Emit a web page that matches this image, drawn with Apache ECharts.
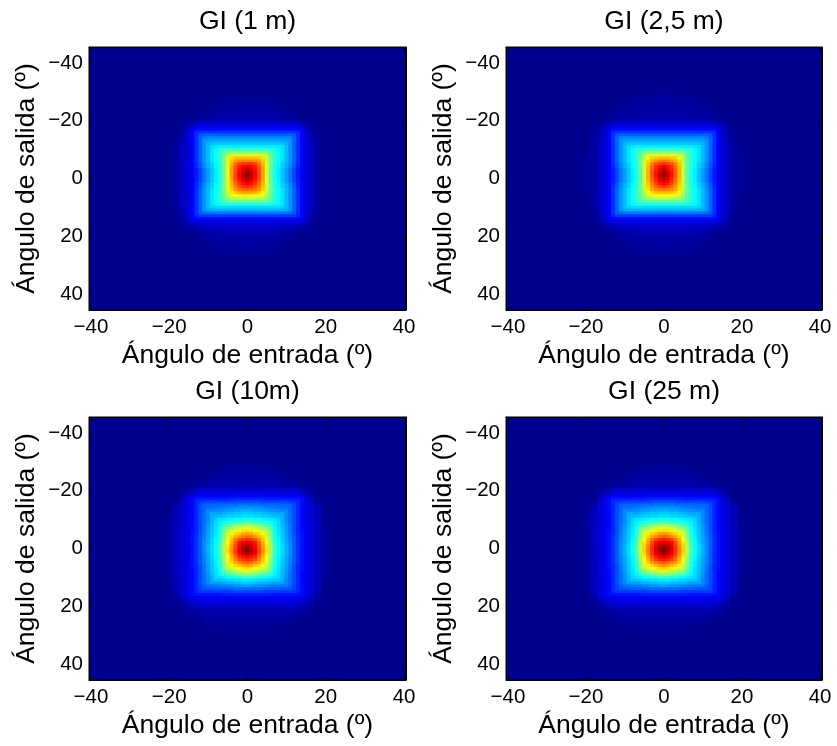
<!DOCTYPE html>
<html>
<head>
<meta charset="utf-8">
<script src="https://cdn.jsdelivr.net/npm/echarts@6/dist/echarts.min.js"></script>
<style>
  html, body { margin: 0; padding: 0; background: #ffffff; }
  #chart { width: 837px; height: 746px; }
</style>
</head>
<body>
<div id="chart"></div>
<script>
// ---- Axes and labels ----
const tickValues = [-40,-20,0,20,40];
const panelTitles = ['GI (1 m)', 'GI (2,5 m)', 'GI (10m)', 'GI (25 m)'];
const xAxisTitle = 'Ángulo de entrada (º)';
const yAxisTitle = 'Ángulo de salida (º)';

// ---- Outer ring: 2-degree cells (angles are cell centres) ----
const xCoarse = [-20,-18,-16,-14,-12,-10,-8,-6,-4,-2,0,2,4,6,8,10,12,14,16,18,20];
const yCoarseTop = [-29,-27,-25,-23,-21,-19,-17,-15,-13,-11,-9,-7,-5,-3,-1,1,3,5,7,9,11,13,15,17,19,21,23,25];
const yCoarseBottom = [-28,-26,-24,-22,-20,-18,-16,-14,-12,-10,-8,-6,-4,-2,0,2,4,6,8,10,12,14,16,18,20,22,24,26,28];

// ---- Central lobe: 1-degree cells ----
const xFineTop = [-15,-14,-13,-12,-11,-10,-9,-8,-7,-6,-5,-4,-3,-2,-1,0,1,2,3,4,5,6,7,8,9,10,11,12,13,14,15];
const yFineTop = [-19,-18,-17,-16,-15,-14,-13,-12,-11,-10,-9,-8,-7,-6,-5,-4,-3,-2,-1,0,1,2,3,4,5,6,7,8,9,10,11,12,13,14,15,16];
const xFineBottom = [-16,-15,-14,-13,-12,-11,-10,-9,-8,-7,-6,-5,-4,-3,-2,-1,0,1,2,3,4,5,6,7,8,9,10,11,12,13,14,15,16];
const yFineBottom = [-20,-19,-18,-17,-16,-15,-14,-13,-12,-11,-10,-9,-8,-7,-6,-5,-4,-3,-2,-1,0,1,2,3,4,5,6,7,8,9,10,11,12,13,14,15,16,17,18,19];

// Normalised gain GI (0-100); rows = output angle, columns = input angle
const gi1mCoarse = [
  [0,0,0,0,0,0,0,0,0,0,0,0,0,0,0,0,0,0,0,0,0],
  [0,0,0,0,0,0,0,0,1,1,1,1,1,0,0,0,0,0,0,0,0],
  [0,0,0,0,0,0,1,2,2,2,2,2,2,2,1,0,0,0,0,0,0],
  [0,0,0,0,0,1,2,2,2,2,2,2,2,2,2,1,0,0,0,0,0],
  [0,0,0,0,1,2,3,3,3,3,3,3,3,3,3,2,1,0,0,0,0],
  [0,0,1,2,4,5,6,6,6,6,6,6,6,6,6,5,4,2,1,0,0],
  [0,0,2,7,11,12,12,12,12,12,12,12,12,12,12,12,11,7,2,0,0],
  [0,1,4,12,20,22,22,22,22,22,22,22,22,22,22,22,20,12,4,1,0],
  [0,1,5,13,22,30,30,30,30,30,30,30,30,30,30,30,22,13,5,1,0],
  [0,2,6,13,22,30,36,36,36,36,36,36,36,36,36,30,22,13,6,2,0],
  [0,2,6,13,22,30,38,46,50,51,51,51,50,46,38,30,22,13,6,2,0],
  [0,2,6,13,22,30,38,46,62,68,70,68,62,46,38,30,22,13,6,2,0],
  [0,2,6,13,22,30,38,46,66,78,83,78,66,46,38,30,22,13,6,2,0],
  [0,2,6,12,19,27,36,46,70,86,93,86,70,46,36,27,19,12,6,2,0],
  [0,2,6,12,19,27,36,46,72,88,100,88,72,46,36,27,19,12,6,2,0],
  [0,2,6,12,19,27,36,46,70,84,92,84,70,46,36,27,19,12,6,2,0],
  [0,2,6,13,22,30,38,46,66,79,84,79,66,46,38,30,22,13,6,2,0],
  [0,2,6,13,22,30,38,46,62,68,70,68,62,46,38,30,22,13,6,2,0],
  [0,2,6,13,22,30,38,46,53,56,56,56,53,46,38,30,22,13,6,2,0],
  [0,2,6,13,22,30,36,39,40,40,40,40,40,39,36,30,22,13,6,2,0],
  [0,1,6,13,22,29,31,31,31,31,31,31,31,31,31,29,22,13,6,1,0],
  [0,1,4,12,17,18,18,18,18,18,18,18,18,18,18,18,17,12,4,1,0],
  [0,0,2,6,9,10,10,10,10,10,10,10,10,10,10,10,9,6,2,0,0],
  [0,0,1,2,4,5,6,6,6,6,6,6,6,6,6,5,4,2,1,0,0],
  [0,0,0,0,1,2,3,4,4,4,4,4,4,4,3,2,1,0,0,0,0],
  [0,0,0,0,0,1,2,2,2,2,2,2,2,2,2,1,0,0,0,0,0],
  [0,0,0,0,0,0,1,2,2,2,2,2,2,2,1,0,0,0,0,0,0],
  [0,0,0,0,0,0,0,0,1,1,1,1,1,0,0,0,0,0,0,0,0]
];

const gi1mFine = [
  [2,4,5,6,6,6,6,6,6,6,6,6,6,6,6,6,6,6,6,6,6,6,6,6,6,6,6,6,5,4,2],
  [4,7,9,10,10,10,10,10,10,10,10,10,10,10,10,10,10,10,10,10,10,10,10,10,10,10,10,10,9,7,4],
  [6,10,12,13,13,13,13,13,13,13,13,13,13,13,13,13,13,13,13,13,13,13,13,13,13,13,13,13,12,10,6],
  [7,11,16,17,17,17,17,17,17,17,17,17,17,17,17,17,17,17,17,17,17,17,17,17,17,17,17,17,16,11,7],
  [8,12,17,21,22,22,22,22,22,22,22,22,22,22,22,22,22,22,22,22,22,22,22,22,22,22,22,21,17,12,8],
  [8,12,17,22,25,26,26,26,26,26,26,26,26,26,26,26,26,26,26,26,26,26,26,26,26,26,25,22,17,12,8],
  [8,12,17,22,27,28,29,29,29,29,29,29,29,29,29,29,29,29,29,29,29,29,29,29,29,28,27,22,17,12,8],
  [8,12,17,22,27,30,31,32,32,32,32,32,32,32,32,32,32,32,32,32,32,32,32,32,31,30,27,22,17,12,8],
  [8,12,17,22,27,31,34,35,36,36,36,36,36,36,36,36,36,36,36,36,36,36,36,35,34,31,27,22,17,12,8],
  [8,12,17,22,27,31,35,37,40,41,42,42,42,42,42,42,42,42,42,42,42,41,40,37,35,31,27,22,17,12,8],
  [8,12,17,22,27,31,35,38,42,46,49,50,50,50,50,50,50,50,50,50,49,46,42,38,35,31,27,22,17,12,8],
  [8,12,17,22,27,31,35,38,42,47,55,58,59,59,59,59,59,59,59,58,55,47,42,38,35,31,27,22,17,12,8],
  [8,12,17,22,27,31,35,38,42,48,58,65,68,69,69,69,69,69,68,65,58,48,42,38,35,31,27,22,17,12,8],
  [8,12,17,22,27,31,35,38,42,48,58,68,72,74,75,75,75,74,72,68,58,48,42,38,35,31,27,22,17,12,8],
  [8,12,16,21,26,30,33,37,41,48,59,70,77,81,83,83,83,81,77,70,59,48,41,37,33,30,26,21,16,12,8],
  [8,12,16,21,26,30,33,37,41,48,60,71,79,85,88,90,88,85,79,71,60,48,41,37,33,30,26,21,16,12,8],
  [8,11,15,19,24,28,32,36,40,47,60,72,80,86,90,94,90,86,80,72,60,47,40,36,32,28,24,19,15,11,8],
  [8,11,15,19,24,28,32,36,40,47,60,72,81,88,93,97,93,88,81,72,60,47,40,36,32,28,24,19,15,11,8],
  [8,11,15,19,24,28,32,36,40,47,60,72,81,88,94,100,94,88,81,72,60,47,40,36,32,28,24,19,15,11,8],
  [8,11,15,19,24,28,32,36,40,47,60,72,81,87,92,96,92,87,81,72,60,47,40,36,32,28,24,19,15,11,8],
  [8,11,15,19,24,28,32,36,40,47,60,71,79,85,89,92,89,85,79,71,60,47,40,36,32,28,24,19,15,11,8],
  [8,12,16,21,26,30,33,37,41,48,59,70,77,82,86,88,86,82,77,70,59,48,41,37,33,30,26,21,16,12,8],
  [8,12,16,21,26,30,33,37,41,48,58,68,75,79,82,83,82,79,75,68,58,48,41,37,33,30,26,21,16,12,8],
  [8,12,17,22,27,31,35,38,42,48,58,67,73,76,77,78,77,76,73,67,58,48,42,38,35,31,27,22,17,12,8],
  [8,12,17,22,27,31,35,38,42,48,57,64,68,70,71,71,71,70,68,64,57,48,42,38,35,31,27,22,17,12,8],
  [8,12,17,22,27,31,35,38,42,47,55,60,62,63,64,64,64,63,62,60,55,47,42,38,35,31,27,22,17,12,8],
  [8,12,17,22,27,31,35,38,42,46,51,54,55,56,56,56,56,56,55,54,51,46,42,38,35,31,27,22,17,12,8],
  [8,12,17,22,27,31,35,38,41,44,47,48,48,48,48,48,48,48,48,48,47,44,41,38,35,31,27,22,17,12,8],
  [8,12,17,22,27,31,35,37,39,40,40,40,40,40,40,40,40,40,40,40,40,40,39,37,35,31,27,22,17,12,8],
  [8,12,17,22,27,31,33,34,34,34,34,34,34,34,34,34,34,34,34,34,34,34,34,34,33,31,27,22,17,12,8],
  [8,12,17,22,27,29,30,30,30,30,30,30,30,30,30,30,30,30,30,30,30,30,30,30,30,29,27,22,17,12,8],
  [8,12,17,21,23,24,24,24,24,24,24,24,24,24,24,24,24,24,24,24,24,24,24,24,24,24,23,21,17,12,8],
  [7,12,16,18,18,18,18,18,18,18,18,18,18,18,18,18,18,18,18,18,18,18,18,18,18,18,18,18,16,12,7],
  [7,11,13,13,13,13,13,13,13,13,13,13,13,13,13,13,13,13,13,13,13,13,13,13,13,13,13,13,13,11,7],
  [5,8,9,9,9,9,9,9,9,9,9,9,9,9,9,9,9,9,9,9,9,9,9,9,9,9,9,9,9,8,5],
  [3,5,6,7,7,7,7,7,7,7,7,7,7,7,7,7,7,7,7,7,7,7,7,7,7,7,7,7,6,5,3]
];

const gi2_5mCoarse = [
  [0,0,0,0,0,0,0,0,0,1,1,1,0,0,0,0,0,0,0,0,0],
  [0,0,0,0,0,0,1,2,2,2,2,2,2,2,1,0,0,0,0,0,0],
  [0,0,0,0,0,1,2,2,2,2,2,2,2,2,2,1,0,0,0,0,0],
  [0,0,0,0,1,2,2,2,2,2,2,2,2,2,2,2,1,0,0,0,0],
  [0,0,0,1,2,3,3,3,3,3,3,3,3,3,3,3,2,1,0,0,0],
  [0,0,1,3,4,5,6,6,6,6,6,6,6,6,6,5,4,3,1,0,0],
  [0,1,3,7,11,12,12,12,12,12,12,12,12,12,12,12,11,7,3,1,0],
  [0,1,4,12,20,22,22,22,22,22,22,22,22,22,22,22,20,12,4,1,0],
  [0,2,5,13,22,30,30,30,30,30,30,30,30,30,30,30,22,13,5,2,0],
  [0,2,6,13,22,30,36,37,37,37,37,37,37,37,36,30,22,13,6,2,0],
  [0,2,6,13,22,30,38,46,50,51,52,51,50,46,38,30,22,13,6,2,0],
  [1,2,6,13,22,30,38,46,62,68,70,68,62,46,38,30,22,13,6,2,1],
  [1,2,6,13,22,30,38,45,65,78,84,78,65,45,38,30,22,13,6,2,1],
  [1,2,6,12,19,27,36,45,68,85,94,85,68,45,36,27,19,12,6,2,1],
  [1,2,6,12,19,27,36,45,70,86,100,86,70,45,36,27,19,12,6,2,1],
  [1,2,6,12,19,27,36,45,68,83,91,83,68,45,36,27,19,12,6,2,1],
  [1,2,6,13,22,30,38,45,64,77,82,77,64,45,38,30,22,13,6,2,1],
  [0,2,6,13,22,30,38,45,60,66,69,66,60,45,38,30,22,13,6,2,0],
  [0,2,6,13,22,30,38,45,52,55,55,55,52,45,38,30,22,13,6,2,0],
  [0,2,6,13,22,30,36,39,40,40,40,40,40,39,36,30,22,13,6,2,0],
  [0,1,6,13,22,29,31,31,31,31,31,31,31,31,31,29,22,13,6,1,0],
  [0,1,4,12,17,18,18,18,18,18,18,18,18,18,18,18,17,12,4,1,0],
  [0,0,2,6,9,10,10,10,10,10,10,10,10,10,10,10,9,6,2,0,0],
  [0,0,1,3,4,5,6,6,6,6,6,6,6,6,6,5,4,3,1,0,0],
  [0,0,0,0,2,3,3,4,4,4,4,4,4,4,3,3,2,0,0,0,0],
  [0,0,0,0,0,2,2,2,2,2,2,2,2,2,2,2,0,0,0,0,0],
  [0,0,0,0,0,0,1,2,2,2,2,2,2,2,1,0,0,0,0,0,0],
  [0,0,0,0,0,0,0,0,1,1,1,1,1,0,0,0,0,0,0,0,0]
];

const gi2_5mFine = [
  [3,4,5,6,6,6,6,6,6,6,6,6,6,6,6,6,6,6,6,6,6,6,6,6,6,6,6,6,5,4,3],
  [5,7,9,10,10,10,10,10,10,10,10,10,10,10,10,10,10,10,10,10,10,10,10,10,10,10,10,10,9,7,5],
  [6,10,12,13,13,13,13,13,13,13,13,13,13,13,13,13,13,13,13,13,13,13,13,13,13,13,13,13,12,10,6],
  [7,11,16,17,17,17,17,17,17,17,17,17,17,17,17,17,17,17,17,17,17,17,17,17,17,17,17,17,16,11,7],
  [8,12,17,21,22,22,22,22,22,22,22,22,22,22,22,22,22,22,22,22,22,22,22,22,22,22,22,21,17,12,8],
  [8,12,17,22,25,26,26,26,26,26,26,26,26,26,26,26,26,26,26,26,26,26,26,26,26,26,25,22,17,12,8],
  [8,12,17,22,27,28,29,29,29,29,29,29,29,29,29,29,29,29,29,29,29,29,29,29,29,28,27,22,17,12,8],
  [8,12,17,22,27,30,31,32,32,32,32,32,32,32,32,32,32,32,32,32,32,32,32,32,31,30,27,22,17,12,8],
  [8,12,17,22,27,31,34,35,36,36,36,36,36,36,36,36,36,36,36,36,36,36,36,35,34,31,27,22,17,12,8],
  [8,12,17,22,27,31,35,37,40,41,42,42,42,42,42,42,42,42,42,42,42,41,40,37,35,31,27,22,17,12,8],
  [8,12,17,22,27,31,35,38,42,45,48,49,50,50,50,51,50,50,50,49,48,45,42,38,35,31,27,22,17,12,8],
  [8,12,17,22,27,31,35,38,42,46,54,57,58,59,59,60,59,59,58,57,54,46,42,38,35,31,27,22,17,12,8],
  [8,12,17,22,27,31,35,38,42,47,56,63,67,68,69,69,69,68,67,63,56,47,42,38,35,31,27,22,17,12,8],
  [8,12,17,22,27,31,35,38,42,47,56,66,70,73,75,76,75,73,70,66,56,47,42,38,35,31,27,22,17,12,8],
  [8,12,16,21,26,30,33,37,41,47,57,68,75,79,82,84,82,79,75,68,57,47,41,37,33,30,26,21,16,12,8],
  [8,12,16,21,26,30,33,37,41,47,58,69,77,83,87,90,87,83,77,69,58,47,41,37,33,30,26,21,16,12,8],
  [8,11,15,19,24,28,32,36,40,46,58,70,78,84,89,94,89,84,78,70,58,46,40,36,32,28,24,19,15,11,8],
  [8,11,15,19,24,28,32,36,40,46,58,70,79,86,92,97,92,86,79,70,58,46,40,36,32,28,24,19,15,11,8],
  [8,11,15,19,24,28,32,36,40,46,58,70,79,86,93,100,93,86,79,70,58,46,40,36,32,28,24,19,15,11,8],
  [8,11,15,19,24,28,32,36,40,46,58,70,78,85,91,95,91,85,78,70,58,46,40,36,32,28,24,19,15,11,8],
  [8,11,15,19,24,28,32,36,40,46,58,69,77,83,88,91,88,83,77,69,58,46,40,36,32,28,24,19,15,11,8],
  [8,12,16,21,26,30,33,37,41,47,57,68,75,81,85,87,85,81,75,68,57,47,41,37,33,30,26,21,16,12,8],
  [8,12,16,21,26,30,33,37,41,47,56,66,73,77,80,82,80,77,73,66,56,47,41,37,33,30,26,21,16,12,8],
  [8,12,17,22,27,31,35,38,42,47,56,65,71,74,75,76,75,74,71,65,56,47,42,38,35,31,27,22,17,12,8],
  [8,12,17,22,27,31,35,38,42,47,55,62,66,68,69,69,69,68,66,62,55,47,42,38,35,31,27,22,17,12,8],
  [8,12,17,22,27,31,35,38,42,46,53,58,60,61,62,62,62,61,60,58,53,46,42,38,35,31,27,22,17,12,8],
  [8,12,17,22,27,31,35,38,42,45,50,53,54,55,55,55,55,55,54,53,50,45,42,38,35,31,27,22,17,12,8],
  [8,12,17,22,27,31,35,38,41,44,46,47,47,47,47,47,47,47,47,47,46,44,41,38,35,31,27,22,17,12,8],
  [8,12,17,22,27,31,35,37,39,40,40,40,40,40,40,40,40,40,40,40,40,40,39,37,35,31,27,22,17,12,8],
  [8,12,17,22,27,31,33,34,34,34,34,34,34,34,34,34,34,34,34,34,34,34,34,34,33,31,27,22,17,12,8],
  [8,12,17,22,27,29,30,30,30,30,30,30,30,30,30,30,30,30,30,30,30,30,30,30,30,29,27,22,17,12,8],
  [8,12,17,21,23,24,24,24,24,24,24,24,24,24,24,24,24,24,24,24,24,24,24,24,24,24,23,21,17,12,8],
  [8,12,16,18,18,18,18,18,18,18,18,18,18,18,18,18,18,18,18,18,18,18,18,18,18,18,18,18,16,12,8],
  [7,11,13,13,13,13,13,13,13,13,13,13,13,13,13,13,13,13,13,13,13,13,13,13,13,13,13,13,13,11,7],
  [6,8,9,9,9,9,9,9,9,9,9,9,9,9,9,9,9,9,9,9,9,9,9,9,9,9,9,9,9,8,6],
  [4,5,6,7,7,7,7,7,7,7,7,7,7,7,7,7,7,7,7,7,7,7,7,7,7,7,7,7,6,5,4]
];

const gi10mCoarse = [
  [0,0,0,0,0,0,0,0,1,1,1,1,1,0,0,0,0,0,0,0,0],
  [0,0,0,0,0,0,1,2,2,2,2,2,2,2,1,0,0,0,0,0,0],
  [0,0,0,0,0,1,2,2,2,2,2,2,2,2,2,1,0,0,0,0,0],
  [0,0,0,0,1,2,3,3,3,3,3,3,3,3,3,2,1,0,0,0,0],
  [0,0,1,4,5,6,6,6,6,6,6,6,6,6,6,6,5,4,1,0,0],
  [0,0,5,11,12,12,12,12,12,12,12,12,12,12,12,12,12,11,5,0,0],
  [0,1,8,14,18,19,19,20,20,20,20,20,20,20,19,19,18,14,8,1,0],
  [0,4,9,15,21,25,26,26,27,27,27,27,27,26,26,25,21,15,9,4,0],
  [0,5,9,15,21,27,30,31,31,32,32,32,31,31,30,27,21,15,9,5,0],
  [1,5,9,15,21,28,34,36,37,37,38,37,37,36,34,28,21,15,9,5,1],
  [1,5,9,15,22,29,36,46,48,49,50,49,48,46,36,29,22,15,9,5,1],
  [1,5,9,15,22,29,37,49,60,63,65,63,60,49,37,29,22,15,9,5,1],
  [1,5,9,15,22,30,37,49,64,72,77,72,64,49,37,30,22,15,9,5,1],
  [1,5,9,15,22,30,37,51,68,81,89,81,68,51,37,30,22,15,9,5,1],
  [1,5,9,15,22,30,38,53,72,89,98,89,72,53,38,30,22,15,9,5,1],
  [1,5,9,15,22,30,38,52,71,86,94,86,71,52,38,30,22,15,9,5,1],
  [1,5,9,15,22,30,37,51,66,78,84,78,66,51,37,30,22,15,9,5,1],
  [1,5,9,15,22,30,37,50,61,67,72,67,61,50,37,30,22,15,9,5,1],
  [1,5,9,15,22,29,36,47,55,57,59,57,55,47,36,29,22,15,9,5,1],
  [1,5,9,15,22,29,35,41,42,43,44,43,42,41,35,29,22,15,9,5,1],
  [0,5,9,15,21,28,31,32,32,33,33,33,32,32,31,28,21,15,9,5,0],
  [0,5,9,14,20,23,24,24,25,25,25,25,25,24,24,23,20,14,9,5,0],
  [0,3,9,14,15,16,16,16,16,16,16,16,16,16,16,16,15,14,9,3,0],
  [0,1,6,8,9,9,9,9,9,9,9,9,9,9,9,9,9,8,6,1,0],
  [0,0,2,4,5,5,5,5,5,5,5,5,5,5,5,5,5,4,2,0,0],
  [0,0,0,2,3,3,3,3,3,3,3,3,3,3,3,3,3,2,0,0,0],
  [0,0,0,0,1,2,2,2,2,2,2,2,2,2,2,2,1,0,0,0,0],
  [0,0,0,0,0,1,1,1,1,1,1,1,1,1,1,1,0,0,0,0,0],
  [0,0,0,0,0,0,0,1,1,1,1,1,1,1,0,0,0,0,0,0,0]
];

const gi10mFine = [
  [1,3,5,6,7,7,7,7,7,7,7,7,7,7,7,7,7,7,7,7,7,7,7,7,7,7,7,7,7,6,5,3,1],
  [2,4,6,8,9,9,9,9,9,9,9,9,9,9,9,9,9,9,9,9,9,9,9,9,9,9,9,9,9,8,6,4,2],
  [4,7,10,12,12,12,12,12,12,12,12,12,13,13,13,13,13,13,13,13,13,12,12,12,12,12,12,12,12,12,10,7,4],
  [6,9,13,15,15,15,15,15,15,15,15,15,16,16,16,16,16,16,16,16,16,15,15,15,15,15,15,15,15,15,13,9,6],
  [7,10,13,16,18,18,19,19,19,19,19,19,19,20,20,20,20,20,20,20,19,19,19,19,19,19,19,18,18,16,13,10,7],
  [7,10,13,16,19,22,22,22,22,23,23,23,23,23,24,24,24,24,24,23,23,23,23,23,22,22,22,22,19,16,13,10,7],
  [7,10,13,16,20,22,23,23,24,24,25,25,26,26,27,27,27,27,27,26,26,25,25,24,24,23,23,22,20,16,13,10,7],
  [7,10,13,16,20,22,26,26,26,27,27,28,28,29,29,30,30,30,29,29,28,28,27,27,26,26,26,22,20,16,13,10,7],
  [7,10,13,16,20,23,26,29,29,29,30,31,31,32,32,33,33,33,32,32,31,31,30,29,29,29,26,23,20,16,13,10,7],
  [7,10,13,16,20,23,26,30,31,31,32,33,33,34,34,35,35,35,34,34,33,33,32,31,31,30,26,23,20,16,13,10,7],
  [7,10,13,16,20,23,26,30,33,35,35,36,37,38,38,39,39,39,38,38,37,36,35,35,33,30,26,23,20,16,13,10,7],
  [7,10,13,16,20,23,27,30,34,36,38,40,41,42,43,44,45,44,43,42,41,40,38,36,34,30,27,23,20,16,13,10,7],
  [7,10,13,16,20,24,27,31,34,37,42,45,47,49,51,52,53,52,51,49,47,45,42,37,34,31,27,24,20,16,13,10,7],
  [8,11,13,16,20,24,28,31,35,38,46,50,52,55,57,59,60,59,57,55,52,50,46,38,35,31,28,24,20,16,13,11,8],
  [8,11,14,16,20,24,28,32,35,39,48,55,57,60,63,65,66,65,63,60,57,55,48,39,35,32,28,24,20,16,14,11,8],
  [8,11,14,16,20,24,28,32,36,40,49,57,63,66,68,71,72,71,68,66,63,57,49,40,36,32,28,24,20,16,14,11,8],
  [8,11,14,17,21,25,29,32,36,40,50,58,66,70,73,76,77,76,73,70,66,58,50,40,36,32,29,25,21,17,14,11,8],
  [8,11,14,17,21,25,29,33,37,41,51,61,68,75,80,82,84,82,80,75,68,61,51,41,37,33,29,25,21,17,14,11,8],
  [8,11,14,17,21,26,29,33,37,42,52,63,70,78,86,88,90,88,86,78,70,63,52,42,37,33,29,26,21,17,14,11,8],
  [8,11,14,17,21,26,30,34,38,43,53,64,72,80,87,92,94,92,87,80,72,64,53,43,38,34,30,26,21,17,14,11,8],
  [8,11,14,17,21,26,30,34,38,44,54,65,73,81,89,95,98,95,89,81,73,65,54,44,38,34,30,26,21,17,14,11,8],
  [8,11,14,17,21,26,30,34,38,44,54,66,74,82,90,96,100,96,90,82,74,66,54,44,38,34,30,26,21,17,14,11,8],
  [8,11,14,17,21,26,30,34,38,43,53,64,72,80,87,92,94,92,87,80,72,64,53,43,38,34,30,26,21,17,14,11,8],
  [8,11,14,17,21,25,29,33,37,42,52,62,70,77,84,86,88,86,84,77,70,62,52,42,37,33,29,25,21,17,14,11,8],
  [8,11,14,17,21,25,29,33,37,41,51,61,68,75,80,82,84,82,80,75,68,61,51,41,37,33,29,25,21,17,14,11,8],
  [8,11,14,17,21,25,29,32,36,41,50,59,66,71,74,76,78,76,74,71,66,59,50,41,36,32,29,25,21,17,14,11,8],
  [8,11,14,16,20,24,28,32,36,40,49,57,63,66,68,71,72,71,68,66,63,57,49,40,36,32,28,24,20,16,14,11,8],
  [8,11,14,16,20,24,28,32,35,39,48,55,57,60,63,65,66,65,63,60,57,55,48,39,35,32,28,24,20,16,14,11,8],
  [8,11,13,16,20,24,28,31,35,38,46,50,52,54,56,58,59,58,56,54,52,50,46,38,35,31,28,24,20,16,13,11,8],
  [7,10,13,16,20,23,27,31,34,37,41,44,46,48,50,51,52,51,50,48,46,44,41,37,34,31,27,23,20,16,13,10,7],
  [7,10,13,16,20,23,27,30,34,35,36,38,39,40,41,42,43,42,41,40,39,38,36,35,34,30,27,23,20,16,13,10,7],
  [7,10,13,16,20,23,26,30,32,32,33,34,34,35,35,36,36,36,35,35,34,34,33,32,32,30,26,23,20,16,13,10,7],
  [7,10,13,16,20,23,26,28,28,28,29,30,30,31,31,32,32,32,31,31,30,30,29,28,28,28,26,23,20,16,13,10,7],
  [7,10,13,16,19,22,24,24,24,25,25,26,26,27,27,28,28,28,27,27,26,26,25,25,24,24,24,22,19,16,13,10,7],
  [7,10,13,16,19,21,21,21,22,22,22,22,22,23,23,23,23,23,23,23,22,22,22,22,22,21,21,21,19,16,13,10,7],
  [7,10,13,16,18,18,18,18,18,18,18,18,19,19,19,19,19,19,19,19,19,18,18,18,18,18,18,18,18,16,13,10,7],
  [7,10,13,14,14,14,14,14,14,14,15,15,15,15,15,15,15,15,15,15,15,15,15,14,14,14,14,14,14,14,13,10,7],
  [6,10,11,11,11,11,11,11,11,12,12,12,12,12,12,12,12,12,12,12,12,12,12,12,11,11,11,11,11,11,11,10,6],
  [4,7,9,9,9,10,10,10,10,10,10,10,10,10,10,10,10,10,10,10,10,10,10,10,10,10,10,10,9,9,9,7,4],
  [2,4,6,7,8,8,8,8,8,8,8,8,8,8,8,8,8,8,8,8,8,8,8,8,8,8,8,8,8,7,6,4,2]
];

const gi25mCoarse = [
  [0,0,0,0,0,0,0,0,1,1,1,1,1,0,0,0,0,0,0,0,0],
  [0,0,0,0,0,0,1,2,2,2,2,2,2,2,1,0,0,0,0,0,0],
  [0,0,0,0,0,1,2,2,2,2,2,2,2,2,2,1,0,0,0,0,0],
  [0,0,0,0,1,2,3,3,3,3,3,3,3,3,3,2,1,0,0,0,0],
  [0,0,1,4,5,6,6,6,6,6,6,6,6,6,6,6,5,4,1,0,0],
  [0,0,5,11,12,12,12,12,12,12,12,12,12,12,12,12,12,11,5,0,0],
  [0,1,8,14,18,19,19,20,20,20,20,20,20,20,19,19,18,14,8,1,0],
  [0,4,9,15,21,25,26,26,27,27,27,27,27,26,26,25,21,15,9,4,0],
  [0,5,9,15,21,27,30,31,32,32,32,32,32,31,30,27,21,15,9,5,0],
  [1,5,9,15,21,28,34,37,38,38,39,38,38,37,34,28,21,15,9,5,1],
  [1,5,9,15,22,29,37,47,49,50,51,50,49,47,37,29,22,15,9,5,1],
  [1,5,9,15,22,29,38,51,61,64,66,64,61,51,38,29,22,15,9,5,1],
  [1,5,9,15,22,30,38,51,66,74,79,74,66,51,38,30,22,15,9,5,1],
  [1,5,9,15,22,30,38,53,70,83,91,83,70,53,38,30,22,15,9,5,1],
  [1,5,9,15,22,30,39,55,74,90,99,90,74,55,39,30,22,15,9,5,1],
  [1,5,9,15,22,30,39,54,72,87,95,87,72,54,39,30,22,15,9,5,1],
  [1,5,9,15,22,30,38,52,68,80,86,80,68,52,38,30,22,15,9,5,1],
  [1,5,9,15,22,30,38,51,62,68,73,68,62,51,38,30,22,15,9,5,1],
  [1,5,9,15,22,29,37,48,56,58,60,58,56,48,37,29,22,15,9,5,1],
  [1,5,9,15,22,29,35,41,43,44,45,44,43,41,35,29,22,15,9,5,1],
  [0,5,9,15,21,28,31,32,32,33,33,33,32,32,31,28,21,15,9,5,0],
  [0,5,9,14,20,23,24,24,25,25,25,25,25,24,24,23,20,14,9,5,0],
  [0,3,9,14,15,16,16,16,16,16,16,16,16,16,16,16,15,14,9,3,0],
  [0,1,6,8,9,9,9,9,9,9,9,9,9,9,9,9,9,8,6,1,0],
  [0,0,2,4,5,5,5,5,5,5,5,5,5,5,5,5,5,4,2,0,0],
  [0,0,0,2,3,3,3,3,3,3,3,3,3,3,3,3,3,2,0,0,0],
  [0,0,0,0,1,2,2,2,2,2,2,2,2,2,2,2,1,0,0,0,0],
  [0,0,0,0,0,1,1,1,1,1,1,1,1,1,1,1,0,0,0,0,0],
  [0,0,0,0,0,0,0,1,1,1,1,1,1,1,0,0,0,0,0,0,0]
];

const gi25mFine = [
  [1,3,5,6,7,7,7,7,7,7,7,7,7,7,7,7,7,7,7,7,7,7,7,7,7,7,7,7,7,6,5,3,1],
  [2,4,6,8,9,9,9,9,9,9,9,9,9,9,9,9,9,9,9,9,9,9,9,9,9,9,9,9,9,8,6,4,2],
  [4,7,10,12,12,12,12,12,12,12,12,12,13,13,13,13,13,13,13,13,13,12,12,12,12,12,12,12,12,12,10,7,4],
  [6,9,13,15,15,15,15,15,15,15,15,15,16,16,16,16,16,16,16,16,16,15,15,15,15,15,15,15,15,15,13,9,6],
  [7,10,13,16,18,18,19,19,19,19,19,19,19,20,20,20,20,20,20,20,19,19,19,19,19,19,19,18,18,16,13,10,7],
  [7,10,13,16,19,22,22,22,22,23,23,23,23,23,24,24,24,24,24,23,23,23,23,23,22,22,22,22,19,16,13,10,7],
  [7,10,13,16,20,22,23,23,24,24,25,25,26,26,27,27,27,27,27,26,26,25,25,24,24,23,23,22,20,16,13,10,7],
  [7,10,13,16,20,22,26,26,26,27,27,28,28,29,29,30,30,30,29,29,28,28,27,27,26,26,26,22,20,16,13,10,7],
  [7,10,13,16,20,23,26,29,29,29,30,31,31,32,32,33,33,33,32,32,31,31,30,29,29,29,26,23,20,16,13,10,7],
  [7,10,13,16,20,23,26,30,31,31,32,33,33,34,34,35,35,35,34,34,33,33,32,31,31,30,26,23,20,16,13,10,7],
  [7,10,13,16,20,23,26,30,33,35,35,36,37,38,38,39,39,39,38,38,37,36,35,35,33,30,26,23,20,16,13,10,7],
  [7,10,13,16,20,23,27,30,34,36,38,40,41,42,43,44,45,44,43,42,41,40,38,36,34,30,27,23,20,16,13,10,7],
  [7,10,13,16,20,24,27,31,34,37,42,45,47,49,51,52,53,52,51,49,47,45,42,37,34,31,27,24,20,16,13,10,7],
  [8,11,13,16,20,24,28,31,35,38,46,50,52,55,57,59,60,59,57,55,52,50,46,38,35,31,28,24,20,16,13,11,8],
  [8,11,14,16,20,24,28,32,35,40,49,56,58,61,64,65,66,65,64,61,58,56,49,40,35,32,28,24,20,16,14,11,8],
  [8,11,14,16,20,24,28,32,36,41,50,58,64,67,69,72,73,72,69,67,64,58,50,41,36,32,28,24,20,16,14,11,8],
  [8,11,14,17,21,25,29,32,36,41,51,60,67,71,74,77,79,77,74,71,67,60,51,41,36,32,29,25,21,17,14,11,8],
  [8,11,14,17,21,25,29,33,37,42,53,63,70,77,81,84,85,84,81,77,70,63,53,42,37,33,29,25,21,17,14,11,8],
  [8,11,14,17,21,26,29,33,38,43,54,65,72,80,87,89,91,89,87,80,72,65,54,43,38,33,29,26,21,17,14,11,8],
  [8,11,14,17,21,26,30,34,38,44,55,66,74,82,89,93,95,93,89,82,74,66,55,44,38,34,30,26,21,17,14,11,8],
  [8,11,14,17,21,26,30,34,39,45,56,67,75,83,91,96,99,96,91,83,75,67,56,45,39,34,30,26,21,17,14,11,8],
  [8,11,14,17,21,26,30,34,39,45,56,67,75,83,91,96,100,96,91,83,75,67,56,45,39,34,30,26,21,17,14,11,8],
  [8,11,14,17,21,26,30,34,38,44,55,66,74,82,89,93,95,93,89,82,74,66,55,44,38,34,30,26,21,17,14,11,8],
  [8,11,14,17,21,25,29,33,37,43,54,64,72,79,85,88,90,88,85,79,72,64,54,43,37,33,29,25,21,17,14,11,8],
  [8,11,14,17,21,25,29,33,37,42,52,62,70,77,81,84,85,84,81,77,70,62,52,42,37,33,29,25,21,17,14,11,8],
  [8,11,14,17,21,25,29,32,36,41,51,60,67,72,75,77,79,77,75,72,67,60,51,41,36,32,29,25,21,17,14,11,8],
  [8,11,14,16,20,24,28,32,36,41,50,58,64,67,69,72,73,72,69,67,64,58,50,41,36,32,28,24,20,16,14,11,8],
  [8,11,14,16,20,24,28,32,35,40,49,56,58,61,64,66,67,66,64,61,58,56,49,40,35,32,28,24,20,16,14,11,8],
  [8,11,13,16,20,24,28,31,35,38,46,50,52,54,56,58,59,58,56,54,52,50,46,38,35,31,28,24,20,16,13,11,8],
  [7,10,13,16,20,23,27,31,34,37,41,44,46,48,50,51,52,51,50,48,46,44,41,37,34,31,27,23,20,16,13,10,7],
  [7,10,13,16,20,23,27,30,34,35,36,38,39,40,41,42,43,42,41,40,39,38,36,35,34,30,27,23,20,16,13,10,7],
  [7,10,13,16,20,23,26,30,32,32,33,34,34,35,35,36,36,36,35,35,34,34,33,32,32,30,26,23,20,16,13,10,7],
  [7,10,13,16,20,23,26,28,28,28,29,30,30,31,31,32,32,32,31,31,30,30,29,28,28,28,26,23,20,16,13,10,7],
  [7,10,13,16,19,22,24,24,24,25,25,26,26,27,27,28,28,28,27,27,26,26,25,25,24,24,24,22,19,16,13,10,7],
  [7,10,13,16,19,21,21,21,22,22,22,22,22,23,23,23,23,23,23,23,22,22,22,22,22,21,21,21,19,16,13,10,7],
  [7,10,13,16,18,18,18,18,18,18,18,18,19,19,19,19,19,19,19,19,19,18,18,18,18,18,18,18,18,16,13,10,7],
  [7,10,13,14,14,14,14,14,14,14,15,15,15,15,15,15,15,15,15,15,15,15,15,14,14,14,14,14,14,14,13,10,7],
  [6,10,11,11,11,11,11,11,11,12,12,12,12,12,12,12,12,12,12,12,12,12,12,12,11,11,11,11,11,11,11,10,6],
  [4,7,9,9,9,10,10,10,10,10,10,10,10,10,10,10,10,10,10,10,10,10,10,10,10,10,10,10,9,9,9,7,4],
  [2,4,6,7,8,8,8,8,8,8,8,8,8,8,8,8,8,8,8,8,8,8,8,8,8,8,8,8,8,7,6,4,2]
];

// Panels: coarse layer then fine layer
const panelLayers = [
  [{ grid: gi1mCoarse, xs: xCoarse, ys: yCoarseTop, step: 2 },
   { grid: gi1mFine, xs: xFineTop, ys: yFineTop, step: 1 }],
  [{ grid: gi2_5mCoarse, xs: xCoarse, ys: yCoarseTop, step: 2 },
   { grid: gi2_5mFine, xs: xFineTop, ys: yFineTop, step: 1 }],
  [{ grid: gi10mCoarse, xs: xCoarse, ys: yCoarseBottom, step: 2 },
   { grid: gi10mFine, xs: xFineBottom, ys: yFineBottom, step: 1 }],
  [{ grid: gi25mCoarse, xs: xCoarse, ys: yCoarseBottom, step: 2 },
   { grid: gi25mFine, xs: xFineBottom, ys: yFineBottom, step: 1 }]
];

// Panel layout in pixels
const panelBoxes = [
  { left: 89,  top: 47,  width: 317, height: 263 },
  { left: 506, top: 47,  width: 316, height: 263 },
  { left: 89,  top: 417, width: 317, height: 263 },
  { left: 506, top: 417, width: 316, height: 263 }
];

const X_RANGE = [-40.5, 40.5];
const Y_RANGE = [-45.5, 45.5];

const jet = ['#00008F', '#0000FF', '#0080FF', '#00FFFF', '#80FF80', '#FFFF00', '#FF8000', '#FF0000', '#800000'];
const FONT = 'Liberation Sans';
const TICK_SIZE = 20.5;
const LABEL_SIZE = 26.5;
const minusFmt = v => (v < 0 ? '\u2212' + (-v) : String(v));

function toCells(layer) {
  const out = [];
  layer.ys.forEach((y, r) => {
    layer.xs.forEach((x, c) => out.push([x, y, layer.grid[r][c]]));
  });
  return out;
}

function cellRenderer(step) {
  return function (params, api) {
    const x = api.value(0), y = api.value(1);
    const a = api.coord([x - step / 2, y - step / 2]);
    const b = api.coord([x + step / 2, y + step / 2]);
    return {
      type: 'rect',
      shape: {
        x: Math.min(a[0], b[0]) - 0.3,
        y: Math.min(a[1], b[1]) - 0.3,
        width: Math.abs(b[0] - a[0]) + 0.6,
        height: Math.abs(b[1] - a[1]) + 0.6
      },
      style: { fill: api.visual('color') }
    };
  };
}

const grids = [], xAxes = [], yAxes = [], series = [], graphics = [];
const lineStyle = { color: '#000', width: 1 };

function frameAxis(extra) {
  return Object.assign({
    type: 'value',
    axisLine: { show: true, onZero: false, lineStyle },
    axisTick: { show: true, inside: true, length: 4, lineStyle, customValues: tickValues },
    axisLabel: { show: false },
    splitLine: { show: false }
  }, extra);
}

panelBoxes.forEach((box, i) => {
  grids.push({
    left: box.left, top: box.top, width: box.width, height: box.height,
    show: true, backgroundColor: '#00008F', borderColor: '#000', borderWidth: 1
  });
  xAxes.push(frameAxis({
    gridIndex: i, position: 'bottom', min: X_RANGE[0], max: X_RANGE[1],
    axisLabel: { show: true, customValues: tickValues, formatter: minusFmt, color: '#000',
                 fontFamily: FONT, fontSize: TICK_SIZE, margin: 7 },
    name: xAxisTitle, nameLocation: 'middle', nameGap: 32,
    nameTextStyle: { color: '#000', fontFamily: FONT, fontSize: LABEL_SIZE }
  }));
  xAxes.push(frameAxis({ gridIndex: i, position: 'top', min: X_RANGE[0], max: X_RANGE[1] }));
  yAxes.push(frameAxis({
    gridIndex: i, position: 'left', inverse: true, min: Y_RANGE[0], max: Y_RANGE[1],
    axisLabel: { show: true, customValues: tickValues, formatter: minusFmt, color: '#000',
                 fontFamily: FONT, fontSize: TICK_SIZE, margin: 6 },
    name: yAxisTitle, nameLocation: 'middle', nameGap: 49, nameRotate: 90,
    nameTextStyle: { color: '#000', fontFamily: FONT, fontSize: LABEL_SIZE }
  }));
  yAxes.push(frameAxis({ gridIndex: i, position: 'right', inverse: true, min: Y_RANGE[0], max: Y_RANGE[1] }));
  panelLayers[i].forEach((layer, k) => {
    series.push({
      type: 'custom', name: panelTitles[i],
      xAxisIndex: 2 * i, yAxisIndex: 2 * i,
      dimensions: ['entrada', 'salida', 'gi'],
      encode: { x: 0, y: 1 },
      renderItem: cellRenderer(layer.step),
      data: toCells(layer),
      z: 1 + k
    });
  });
  graphics.push({
    type: 'text',
    x: box.left + box.width / 2, y: box.top - 25,
    style: { text: panelTitles[i], fill: '#000', font: LABEL_SIZE + 'px "' + FONT + '"',
             textAlign: 'center', textVerticalAlign: 'middle' }
  });
});

const chart = echarts.init(document.getElementById('chart'), null, { renderer: 'canvas' });
chart.setOption({
  animation: false,
  backgroundColor: '#ffffff',
  grid: grids,
  xAxis: xAxes,
  yAxis: yAxes,
  visualMap: {
    type: 'continuous', show: false, min: 0, max: 100, dimension: 2,
    seriesIndex: series.map((s, i) => i),
    inRange: { color: jet }
  },
  graphic: graphics,
  series: series
});
</script>
</body>
</html>
